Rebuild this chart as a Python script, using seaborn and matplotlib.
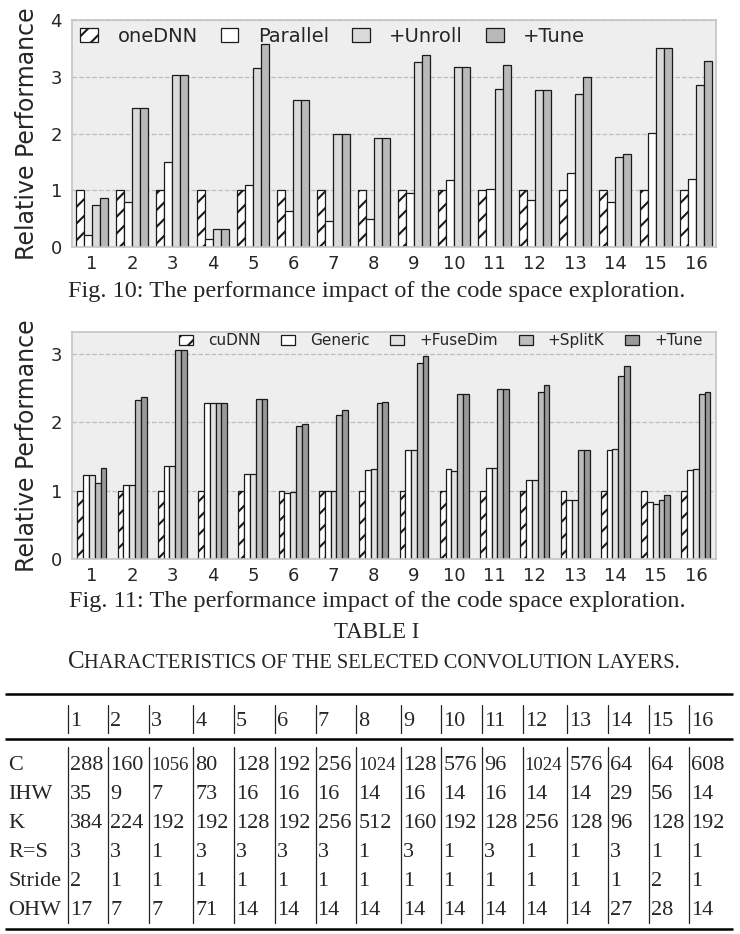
import matplotlib
matplotlib.use("Agg")
import matplotlib.pyplot as plt
import matplotlib.patches as mpatches
import seaborn as sns
import pandas as pd

# ---- data ----
layers = [str(i) for i in range(1, 17)]

# Fig. 10
cpu_methods = ["oneDNN", "Parallel", "+Unroll", "+Tune"]
cpu_onednn = [1.0, 1.0, 1.0, 1.0, 1.0, 1.0, 1.0, 1.0, 1.0, 1.0, 1.0, 1.0, 1.0, 1.0, 1.0, 1.0]
cpu_parallel = [0.21, 0.80, 1.50, 0.15, 1.09, 0.64, 0.46, 0.49, 0.96, 1.18, 1.02, 0.83, 1.30, 0.80, 2.01, 1.20]
cpu_unroll = [0.74, 2.45, 3.04, 0.32, 3.15, 2.59, 1.99, 1.92, 3.26, 3.18, 2.78, 2.76, 2.69, 1.58, 3.51, 2.86]
cpu_tune = [0.86, 2.45, 3.04, 0.32, 3.57, 2.59, 1.99, 1.92, 3.38, 3.18, 3.21, 2.76, 3.00, 1.64, 3.51, 3.28]

# Fig. 11
gpu_methods = ["cuDNN", "Generic", "+FuseDim", "+SplitK", "+Tune"]
gpu_cudnn = [1.0, 1.0, 1.0, 1.0, 1.0, 1.0, 1.0, 1.0, 1.0, 1.0, 1.0, 1.0, 1.0, 1.0, 1.0, 1.0]
gpu_generic = [1.23, 1.08, 1.36, 2.28, 1.24, 0.97, 0.99, 1.30, 1.60, 1.31, 1.33, 1.15, 0.87, 1.59, 0.84, 1.30]
gpu_fusedim = [1.23, 1.08, 1.36, 2.28, 1.24, 0.98, 0.99, 1.32, 1.60, 1.29, 1.33, 1.15, 0.86, 1.61, 0.81, 1.32]
gpu_splitk = [1.11, 2.32, 3.06, 2.28, 2.34, 1.95, 2.11, 2.28, 2.87, 2.42, 2.48, 2.45, 1.59, 2.68, 0.87, 2.42]
gpu_tune = [1.33, 2.37, 3.06, 2.28, 2.34, 1.98, 2.18, 2.30, 2.97, 2.42, 2.48, 2.55, 1.59, 2.82, 0.94, 2.45]

# Table I
row_names = ["C", "IHW", "K", "R=S", "Stride", "OHW"]
tab_c = [288, 160, 1056, 80, 128, 192, 256, 1024, 128, 576, 96, 1024, 576, 64, 64, 608]
tab_ihw = [35, 9, 7, 73, 16, 16, 16, 14, 16, 14, 16, 14, 14, 29, 56, 14]
tab_k = [384, 224, 192, 192, 128, 192, 256, 512, 160, 192, 128, 256, 128, 96, 128, 192]
tab_rs = [3, 3, 1, 3, 3, 3, 3, 1, 3, 1, 3, 1, 1, 3, 1, 1]
tab_stride = [2, 1, 1, 1, 1, 1, 1, 1, 1, 1, 1, 1, 1, 1, 2, 1]
tab_ohw = [17, 7, 7, 71, 14, 14, 14, 14, 14, 14, 14, 14, 14, 27, 28, 14]

caption10 = "Fig. 10: The performance impact of the code space exploration."
caption11 = "Fig. 11: The performance impact of the code space exploration."

sns.set_style("white")
plt.rcParams["font.family"] = ["DejaVu Sans"]
plt.rcParams["hatch.linewidth"] = 1.5
SERIF = "Liberation Serif"

fig = plt.figure(figsize=(7.4, 9.34), dpi=100)


def bar_panel(rect, methods, series, colors, width, ymax, legend_size, colspace,
              legend_kw):
    ax = fig.add_axes(rect)
    df = pd.DataFrame({"layer": layers * len(methods),
                       "method": [m for m in methods for _ in layers],
                       "value": [v for s in series for v in s]})
    sns.barplot(data=df, x="layer", y="value", hue="method", order=layers,
                hue_order=methods, palette=colors, width=width, errorbar=None,
                edgecolor="#1a1a1a", linewidth=0.9, saturation=1, legend=False, ax=ax)
    for bar in ax.containers[0]:
        bar.set_hatch("//")
    ax.set_facecolor("#eeeeee")
    ax.set_xlim(-0.5, 15.5)
    ax.set_ylim(0, ymax)
    ax.set_yticks(range(0, int(ymax) + 1))
    ax.grid(axis="y", linestyle="--", color="#bdbdbd", linewidth=0.9)
    ax.set_axisbelow(True)
    for sp in ax.spines.values():
        sp.set_color("#c4c4c4")
        sp.set_linewidth(1.2)
    ax.tick_params(axis="x", direction="in", length=5, width=1.5, color="black",
                   labelsize=13, pad=6)
    ax.tick_params(axis="y", direction="out", length=4, width=1, color="#333333",
                   labelsize=13, pad=3)
    ax.set_xlabel("")
    ax.set_ylabel("Relative Performance", fontsize=17, labelpad=8)
    handles = [mpatches.Patch(facecolor=c, edgecolor="#1a1a1a", linewidth=0.9,
                              hatch="//" if i == 0 else None, label=m)
               for i, (m, c) in enumerate(zip(methods, colors))]
    ax.legend(handles=handles, ncol=len(methods), frameon=False,
              fontsize=legend_size, handlelength=0.9, handleheight=0.7,
              handletextpad=1.0, columnspacing=colspace, borderaxespad=0.05,
              **legend_kw)
    return ax


bar_panel([0.0969, 0.7355, 0.8707, 0.2430], cpu_methods,
          [cpu_onednn, cpu_parallel, cpu_unroll, cpu_tune],
          ["white", "white", "#dadada", "#b9b9b9"], 0.8, 4, 14, 1.2,
          dict(loc="upper left", bbox_to_anchor=(0.0, 1.01)))
bar_panel([0.0969, 0.4015, 0.8707, 0.2430], gpu_methods,
          [gpu_cudnn, gpu_generic, gpu_fusedim, gpu_splitk, gpu_tune],
          ["white", "white", "#e2e2e2", "#bcbcbc", "#999999"], 0.72, 3.32, 11, 1.35,
          dict(loc="upper right", bbox_to_anchor=(0.99, 1.025)))

# overlay in pixel coordinates for captions and the table
ov = fig.add_axes([0, 0, 1, 1])
ov.set_xlim(0, 740)
ov.set_ylim(934, 0)
ov.axis("off")

ov.text(377, 291, caption10, family=SERIF, fontsize=17.5, ha="center", va="center")
ov.text(377, 602, caption11, family=SERIF, fontsize=17.5, ha="center", va="center")
ov.text(377, 632, "TABLE I", family=SERIF, fontsize=16.5, ha="center", va="center")

# small caps title
renderer = fig.canvas.get_renderer()
big = ov.text(0, 668, "C", family=SERIF, fontsize=18, ha="left", va="baseline")
rest = ov.text(0, 668, "HARACTERISTICS OF THE SELECTED CONVOLUTION LAYERS.",
               family=SERIF, fontsize=14.7, ha="left", va="baseline")
wb = big.get_window_extent(renderer).width
wr = rest.get_window_extent(renderer).width
x0 = 374 - (wb + wr) / 2
big.set_x(x0)
rest.set_x(x0 + wb)

# table
rows = [tab_c, tab_ihw, tab_k, tab_rs, tab_stride, tab_ohw]


def cell_size(v):
    return 13.5 if v >= 1000 else 16


col_x = []
x = 67.7
for j in range(len(layers)):
    widths = []
    for r in rows:
        t = ov.text(0, 0, str(r[j]), family=SERIF, fontsize=cell_size(r[j]))
        widths.append(t.get_window_extent(renderer).width)
        t.remove()
    col_x.append(x)
    x += max(40.7, max(widths) + 7.0)

for yy in (694, 739, 929):
    ov.plot([5, 733], [yy, yy], color="black", linewidth=1.8, solid_capstyle="butt")

header_base = 725.5
row_base = [770.0 + 29 * i for i in range(len(rows))]
for name, yb in zip(row_names, row_base):
    ov.text(8, yb, name, family=SERIF, fontsize=16, ha="left", va="baseline")
for j, lab in enumerate(layers):
    cx = col_x[j]
    ov.plot([cx, cx], [705, 733], color="#222222", linewidth=0.9)
    ov.plot([cx, cx], [747, 923], color="#222222", linewidth=0.9)
    ov.text(cx + 2, header_base, lab, family=SERIF, fontsize=16, ha="left", va="baseline")
    for r, yb in zip(rows, row_base):
        ov.text(cx + 2, yb, str(r[j]), family=SERIF, fontsize=cell_size(r[j]),
                ha="left", va="baseline")

fig.savefig("out.png", dpi=100)
